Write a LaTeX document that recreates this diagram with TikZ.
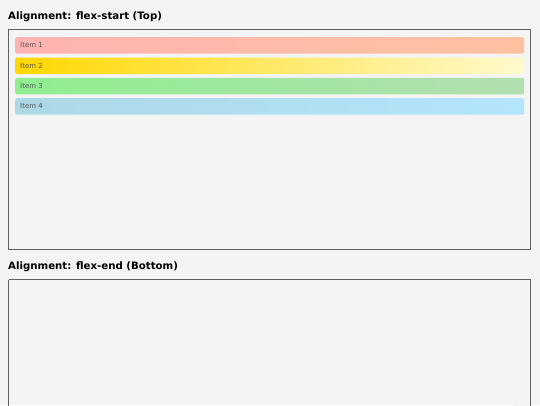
\documentclass[tikz,border=0pt]{standalone}
\usepackage{fontspec}
\setmainfont{DejaVu Sans}
\definecolor{pagebg}{HTML}{F4F4F4}
\definecolor{frame}{HTML}{606060}
\definecolor{itemtext}{HTML}{555555}
\tikzset{
  title/.style={anchor=base west, font=\bfseries\fontsize{10.2}{11}\selectfont, inner sep=0pt},
  panel/.style={draw=frame, line width=0.8pt, fill=pagebg},
  item/.style={anchor=north west, minimum width=509pt, minimum height=16.5pt,
    rounded corners=2pt, inner xsep=5pt, inner ysep=0pt, text=itemtext,
    font=\fontsize{7}{8}\selectfont, align=left, text width=499pt},
}
\begin{document}
\begin{tikzpicture}[x=1pt,y=-1pt]
  \fill[pagebg] (0,0) rectangle (540,405);
  \useasboundingbox (0,0) rectangle (540,405);

  % flex-start
  \node[title] (t1) at (8,19) {Alignment: flex-start (Top)};
  \draw[panel] (8.5,29.5) rectangle (530.5,249.5);
  \node[item, left color={rgb,255:red,255;green,179;blue,179}, right color={rgb,255:red,255;green,194;blue,160}] (i1) at (15,37) {Item 1};
  \node[item, left color={rgb,255:red,255;green,215;blue,0}, right color={rgb,255:red,255;green,250;blue,205}] (i2) at (15,57.3) {Item 2};
  \node[item, left color={rgb,255:red,144;green,238;blue,144}, right color={rgb,255:red,178;green,223;blue,176}] (i3) at (15,77.6) {Item 3};
  \node[item, left color={rgb,255:red,173;green,216;blue,230}, right color={rgb,255:red,179;green,229;blue,252}] (i4) at (15,97.9) {Item 4};

  % flex-end
  \node[title] (t2) at (8,269) {Alignment: flex-end (Bottom)};
  \draw[panel] (8.5,279.5) -- (530.5,279.5) -- (530.5,410) (8.5,279.5) -- (8.5,410);
\end{tikzpicture}
\end{document}
